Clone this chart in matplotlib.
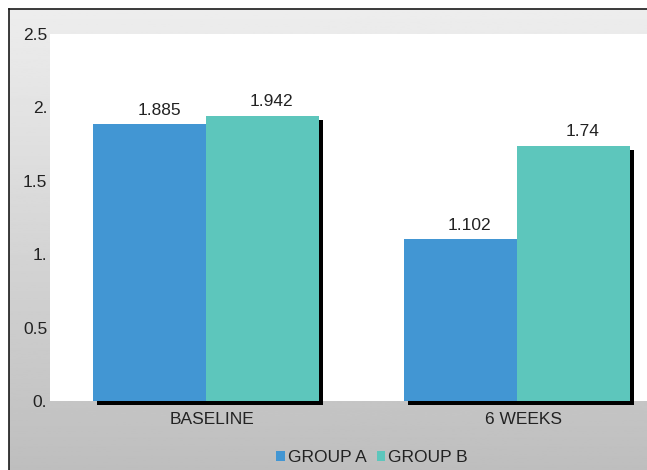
import numpy as np
import matplotlib.pyplot as plt
from matplotlib.lines import Line2D

plt.rcParams['font.family'] = ['Liberation Sans', 'DejaVu Sans']

categories = ['BASELINE', '6 WEEKS']
group_a = [1.885, 1.102]
group_b = [1.942, 1.74]
value_labels_a = ['1.885', '1.102']
value_labels_b = ['1.942', '1.74']
y_ticks = [0, 0.5, 1, 1.5, 2, 2.5]
y_tick_labels = ['0.', '0.5', '1.', '1.5', '2.', '2.5']

col_a = '#4296d3'
col_b = '#5dc6bc'
fs = 12.5

W, H = 647, 470
fig = plt.figure(figsize=(W / 100, H / 100), dpi=100)
fig.patch.set_facecolor('white')

# gray gradient panel behind the chart
bg = fig.add_axes([9 / W, 0, 1 - 9 / W, (H - 9) / H], zorder=0)
grad = np.linspace(0.93, 0.745, 256).reshape(-1, 1)
bg.imshow(grad, aspect='auto', cmap='gray', vmin=0, vmax=1, extent=[0, 1, 0, 1])
bg.axis('off')

# border lines (top and left)
fig.add_artist(Line2D([9 / W, 1], [(H - 9) / H] * 2, color='#1a1a1a', lw=1.2))
fig.add_artist(Line2D([9 / W] * 2, [0, (H - 9) / H], color='#1a1a1a', lw=1.2))

ax = fig.add_axes([50 / W, 69 / H, 1 - 50 / W, 367 / H], zorder=1)
ax.set_facecolor('white')

x = np.arange(len(categories))
w = 0.363
dx, dy = 0.012, 0.027

xa = x - w / 2
xb = x + w / 2

# drop shadows
for xs, vals in [(xa, group_a), (xb, group_b)]:
    ax.bar(xs + dx, vals, w, bottom=-dy, color='black', zorder=1, clip_on=False)

ax.bar(xa, group_a, w, color=col_a, zorder=2, label='GROUP A')
ax.bar(xb, group_b, w, color=col_b, zorder=2, label='GROUP B')

for xs, vals, labs in [(xa, group_a, value_labels_a), (xb, group_b, value_labels_b)]:
    for xi, v, lab in zip(xs, vals, labs):
        ax.text(xi + 0.03, v + 0.045, lab, ha='center', va='bottom', fontsize=fs, color='#222222')

ax.set_xlim(-0.502, (W - 206) / 311)
ax.set_ylim(0, 2.5)
ax.set_yticks(y_ticks)
ax.set_yticklabels(y_tick_labels, fontsize=fs, color='#222222')
ax.set_xticks(x + 0.02)
ax.set_xticklabels(categories, fontsize=fs, color='#222222')
ax.tick_params(length=0)
ax.tick_params(axis='y', pad=2)
ax.tick_params(axis='x', pad=8)
for s in ax.spines.values():
    s.set_visible(False)

fig.legend(loc='center', bbox_to_anchor=(0.575, 12 / H), ncol=2, frameon=False,
           fontsize=fs, handlelength=0.5, handleheight=0.5, handletextpad=0.15,
           columnspacing=0.6, labelcolor='#222222')

fig.savefig('out.png', dpi=100)
